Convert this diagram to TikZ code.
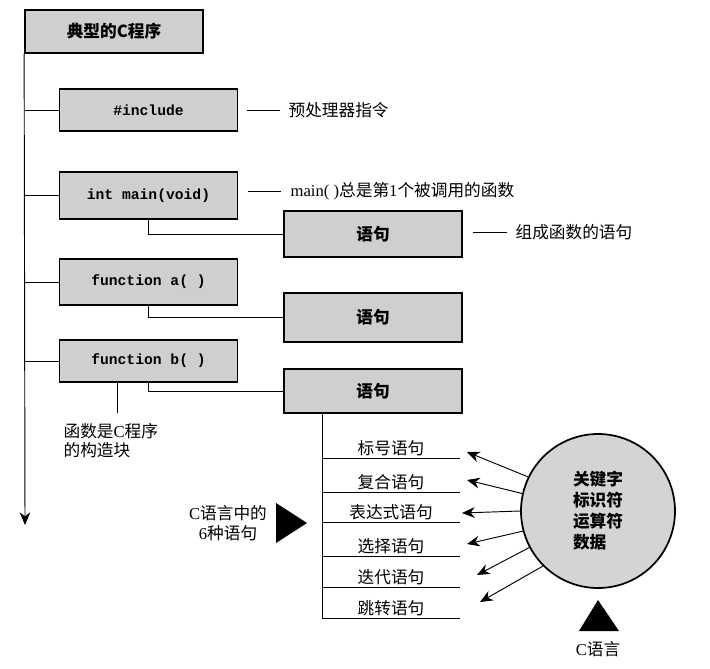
\documentclass[tikz,border=0pt]{standalone}
\usepackage{fontspec}
\setmainfont{Liberation Serif}
\newfontfamily\cjk{Noto Sans CJK SC}
\newfontfamily\codefont{Liberation Mono}
\usetikzlibrary{arrows.meta}

\begin{document}
\begin{tikzpicture}[x=0.75pt,y=-0.75pt,
	box/.style={draw, line width=1.3pt, fill=black!19, minimum width=133.5pt, inner sep=0pt},
	codetext/.style={font=\codefont\bfseries\fontsize{11}{13}\selectfont},
	cntext/.style={font=\cjk\fontsize{12.5}{15}\selectfont, inner sep=1pt},
	boldcn/.style={font=\cjk\bfseries\fontsize{12.5}{15.75}\selectfont},
	conn/.style={line width=0.7pt},
	arr/.style={line width=0.7pt, -{Stealth[length=9.5pt,width=8pt,inset=3pt]}}]
	\useasboundingbox (0,0) rectangle (710,668);
	% Draw the program boxes
	\node[box, minimum height=32pt, boldcn] (title) at (114,31.5) {典型的C程序};
	\node[box, minimum height=31.5pt, codetext] (inc) at (148.5,110) {\#include};
	\node[box, minimum height=35pt, codetext] (mainf) at (148.5,195.5) {int main(void)};
	\node[box, minimum height=34.5pt, codetext] (fa) at (148.5,282) {function a( )};
	\node[box, minimum height=31.5pt, codetext] (fb) at (148.5,361) {function b( )};
	% Draw the statement boxes
	\foreach \name/\y/\h in {s1/234/34.5, s2/317.5/36.75, s3/391/33} {
		\node[box, minimum height=\h pt, boldcn] (\name) at (373,\y) {语句};
	}
	% Draw the trunk and the branches
	\coordinate (trunkend) at (25,525);
	\draw[arr] (title.south west) -- (trunkend);
	\foreach \b in {inc,mainf,fa,fb} {
		\draw[conn] (\b.west) -- (\b.west -| trunkend);
	}
	\draw[conn] (mainf.south) |- (s1.west);
	\draw[conn] (fa.south) |- (s2.west);
	\draw[conn] (fb.south) |- (s3.west);
	% Add the notes
	\node[cntext, anchor=west] (incnote) at (287,110) {预处理器指令};
	\draw[conn] (incnote.west) ++(-5pt,0) -- ++(-25pt,0);
	\node[cntext, anchor=west] (mainnote) at (289,191) {\rmfamily main( )\cjk 总是第\rmfamily 1\cjk 个被调用的函数};
	\draw[conn] (mainnote.west) ++(-6pt,0) -- ++(-25pt,0);
	\node[cntext, anchor=west] (s1note) at (514,232) {组成函数的语句};
	\draw[conn] (s1note.west) ++(-5pt,0) -- ++(-26pt,0);
	\coordinate (noteline) at (117,413);
	\draw[conn] (fb.south -| noteline) -- (noteline);
	\node[cntext, anchor=north west, align=left, font=\cjk\fontsize{12.5}{14.25}\selectfont] (fbnote) at (62,422) {函数是\textrm{C}程序\\的构造块};
	% Draw the six kinds of statements
	\coordinate (stemend) at (322,618);
	\draw[conn] (s3.south -| stemend) -- (stemend);
	\foreach \y/\txt [count=\i] in {458/标号语句, 492/复合语句, 522/表达式语句, 556/选择语句, 587/迭代语句, 618/跳转语句} {
		\draw[conn] (322,\y) -- (460,\y) node[midway, above, cntext] (st\i) {\txt};
	}
	% Draw the C language circle and its arrows
	\node[circle, draw, line width=1.3pt, fill=black!17, minimum size=115.5pt, inner sep=0pt, boldcn, align=left] (circ) at (598,511) {关键字\\标识符\\运算符\\数据};
	\foreach \a/\tx/\ty [count=\i] in {154/467/452, 167/467/480, 180/462/513, 195/467/544, 208/477/575, 225/480/602} {
		\coordinate (tip\i) at (\tx,\ty);
		\draw[arr] (circ.\a) -- (tip\i);
	}
	% Draw the pointers
	\fill (276,503) -- (276,543) -- (307,523) -- cycle;
	\node[cntext, align=center] (sixnote) at (228,523) {\textrm{C}语言中的\\\textrm{6}种语句};
	\fill (598,600) -- (619,631) -- (579,631) -- cycle;
	\node[cntext] (clang) at (598,649) {\textrm{C}语言};
\end{tikzpicture}
\end{document}
